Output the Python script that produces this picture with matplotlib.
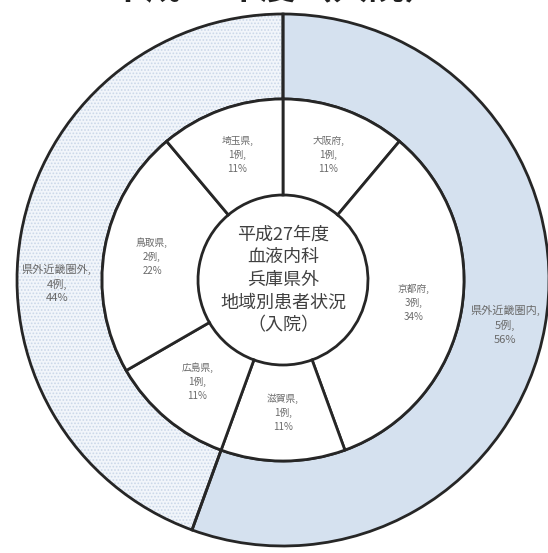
import matplotlib
matplotlib.use("Agg")
import matplotlib.pyplot as plt
import numpy as np

plt.rcParams['font.family'] = ['Noto Sans CJK JP', 'DejaVu Sans']
plt.rcParams['hatch.linewidth'] = 0.8

outer_labels = ["県外近畿圏内", "県外近畿圏外"]
outer_counts = [5, 4]
outer_pcts = ["56%", "44%"]

inner_labels = ["大阪府", "京都府", "滋賀県", "広島県", "鳥取県", "埼玉県"]
inner_counts = [1, 3, 1, 1, 2, 1]
inner_pcts = ["11%", "34%", "11%", "11%", "22%", "11%"]

center_text = "平成27年度\n血液内科\n兵庫県外\n地域別患者状況\n（入院）"
title_text = "平成27年度（入院）"

W, H = 548, 553
cx, cy = 283, 280
R_out, R_mid, R_in = 266, 181, 85
dpi = 100
fig = plt.figure(figsize=(W / dpi, H / dpi), dpi=dpi)
ax = fig.add_axes([0, 0, 1, 1])

line_c = '#262626'
lab_c = '#6a6a6a'

# outer ring fill
wo, _ = ax.pie(outer_counts, radius=R_out, startangle=90, counterclock=False,
               wedgeprops=dict(width=R_out - R_mid, linewidth=0))
wo[0].set_facecolor('#D5E1EF')
wo[0].set_edgecolor('#D5E1EF')
wo[1].set_facecolor('#F1F5FA')
wo[1].set_hatch('.....')
wo[1].set_edgecolor('#CAD7E8')
# outer ring outlines
wo2, _ = ax.pie(outer_counts, radius=R_out, startangle=90, counterclock=False,
                wedgeprops=dict(width=R_out - R_mid, linewidth=2.0,
                                edgecolor=line_c, facecolor='none'))

# inner ring
wi, _ = ax.pie(inner_counts, radius=R_mid, startangle=90, counterclock=False,
               colors=['white'] * len(inner_counts),
               wedgeprops=dict(width=R_mid - R_in, linewidth=2.0, edgecolor=line_c))

ax.set_xlim(-cx, W - cx)
ax.set_ylim(-(H - cy), cy)
ax.set_aspect('equal')
ax.axis('off')

def mid_angle(w):
    return np.deg2rad((w.theta1 + w.theta2) / 2)

r_o = (R_out + R_mid) / 2
outer_dy = [-6, -42]
outer_dx = [2, -6]
for i, w in enumerate(wo):
    a = mid_angle(w)
    x, y = r_o * np.cos(a) + outer_dx[i], r_o * np.sin(a) + outer_dy[i]
    ax.text(x, y, f"{outer_labels[i]},\n{outer_counts[i]}例,\n{outer_pcts[i]}",
            ha='center', va='center', fontsize=8, color=lab_c, linespacing=1.4)

r_i = (R_mid + R_in) / 2
for i, w in enumerate(wi):
    a = mid_angle(w)
    x, y = r_i * np.cos(a), r_i * np.sin(a)
    ax.text(x, y, f"{inner_labels[i]},\n{inner_counts[i]}例,\n{inner_pcts[i]}",
            ha='center', va='center', fontsize=7, color=lab_c, linespacing=1.5)

ax.text(0, 0, center_text, ha='center', va='center', fontsize=13,
        color='#404040', linespacing=1.33)

ax.text(-8, cy - 6, title_text, ha='center', va='bottom', fontsize=26,
        color='#202020', fontweight='bold', clip_on=False)

fig.savefig('out.png', dpi=dpi)
